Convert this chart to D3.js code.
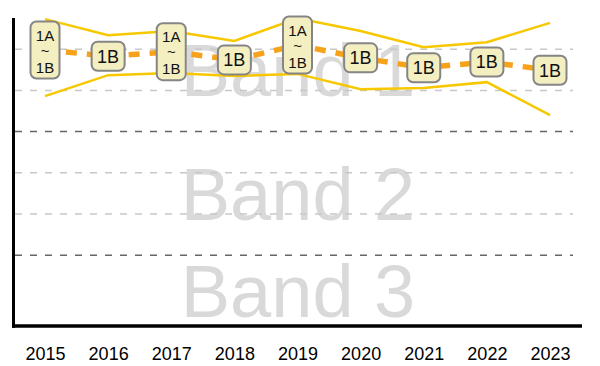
<!DOCTYPE html>
<html>
<head>
<meta charset="utf-8">
<script src="https://cdn.jsdelivr.net/npm/d3@7"></script>
<style>
  html, body { margin: 0; padding: 0; background: #fff; }
  svg { display: block; }
  text { font-family: "Liberation Sans", Arial, sans-serif; }
</style>
</head>
<body>
<svg id="chart" width="600" height="366"></svg>
<script>
// ---- data ----
const years = ["2015","2016","2017","2018","2019","2020","2021","2022","2023"];
// values in grid units (0 = top of Band 1, 3 = Band 1/2 border, 6 = Band 2/3 border)
const upper  = [0.27, 0.66, 0.56, 0.80, 0.25, 0.56, 0.95, 0.83, 0.36];
const median = [1.02, 1.17, 1.06, 1.26, 0.90, 1.21, 1.45, 1.31, 1.51];
const lower  = [2.14, 1.63, 1.58, 1.65, 1.60, 1.97, 1.94, 1.80, 2.60];
const labels = ["1A~1B","1B","1A~1B","1B","1A~1B","1B","1B","1B","1B"];
const bands = [
  {name: "Band 1", from: 0, to: 3},
  {name: "Band 2", from: 3, to: 6},
  {name: "Band 3", from: 6, to: 7.72}
];
const minorGrid = [1, 2, 4, 5];
const majorGrid = [3, 6];

// ---- layout ----
const svg = d3.select("#chart");
const plotLeft = 13.5, plotRight = 582, plotTop = 18, plotBottom = 326;
const x = d3.scalePoint().domain(years).range([45, 550]);
const y = d3.scaleLinear().domain([0, 7.72]).range([8, 326]);

// band labels
svg.append("g").selectAll("text").data(bands).join("text")
  .attr("x", 298)
  .attr("y", d => (y(d.from) + y(d.to)) / 2 + 26.5)
  .attr("text-anchor", "middle")
  .attr("font-size", 74)
  .attr("fill", "#d9d9d9")
  .text(d => d.name);

// gridlines
const grid = svg.append("g");
grid.selectAll("line.minor").data(minorGrid).join("line")
  .attr("class", "minor")
  .attr("x1", 15).attr("x2", 573)
  .attr("y1", d => y(d)).attr("y2", d => y(d))
  .attr("stroke", "#c8c8c8").attr("stroke-width", 1.5)
  .attr("stroke-dasharray", "7,8");
grid.selectAll("line.major").data(majorGrid).join("line")
  .attr("class", "major")
  .attr("x1", 15).attr("x2", 573)
  .attr("y1", d => y(d)).attr("y2", d => y(d))
  .attr("stroke", "#666").attr("stroke-width", 1.5)
  .attr("stroke-dasharray", "7,8");

// range lines
const line = d3.line().x((d, i) => x(years[i])).y(d => y(d));
[upper, lower].forEach(s => {
  svg.append("path").datum(s)
    .attr("d", line)
    .attr("fill", "none")
    .attr("stroke", "#f7c800")
    .attr("stroke-width", 2.5);
});
svg.append("path").datum(median)
  .attr("d", line)
  .attr("fill", "none")
  .attr("stroke", "#f7a21b")
  .attr("stroke-width", 5.5)
  .attr("stroke-dasharray", "11,10");

// label boxes
const boxes = svg.append("g").selectAll("g").data(years).join("g")
  .attr("transform", (d, i) => `translate(${x(d)},${y(median[i])})`);
boxes.each(function(d, i) {
  const g = d3.select(this);
  const lab = labels[i];
  if (lab.includes("~")) {
    const parts = lab.split("~");
    g.append("rect")
      .attr("x", -14.5).attr("y", -28.5).attr("width", 29).attr("height", 57)
      .attr("rx", 6).attr("ry", 6)
      .attr("fill", "#f3efc0").attr("stroke", "#858585").attr("stroke-width", 2);
    g.append("text").attr("text-anchor", "middle").attr("font-size", 15).attr("fill", "#111")
      .attr("y", -9.5).text(parts[0]);
    g.append("text").attr("text-anchor", "middle").attr("font-size", 15).attr("fill", "#111")
      .attr("y", 5.5).text("~");
    g.append("text").attr("text-anchor", "middle").attr("font-size", 15).attr("fill", "#111")
      .attr("y", 22.5).text(parts[1]);
  } else {
    g.append("rect")
      .attr("x", -16.5).attr("y", -14.5).attr("width", 33).attr("height", 29)
      .attr("rx", 6).attr("ry", 6)
      .attr("fill", "#f3efc0").attr("stroke", "#858585").attr("stroke-width", 2);
    g.append("text").attr("text-anchor", "middle").attr("font-size", 18).attr("fill", "#111")
      .attr("y", 6.5).text(lab);
  }
});

// axes
svg.append("line")
  .attr("x1", plotLeft).attr("x2", plotLeft)
  .attr("y1", plotTop).attr("y2", plotBottom + 1.7)
  .attr("stroke", "#000").attr("stroke-width", 3);
svg.append("line")
  .attr("x1", 12).attr("x2", plotRight)
  .attr("y1", plotBottom).attr("y2", plotBottom)
  .attr("stroke", "#000").attr("stroke-width", 3.5);

const xAxis = d3.axisBottom(x).tickSize(0).tickPadding(0);
const xg = svg.append("g").attr("transform", `translate(0,${plotBottom})`).call(xAxis);
xg.select(".domain").remove();
xg.selectAll("text")
  .attr("font-size", 18)
  .attr("font-family", "'Liberation Sans', Arial, sans-serif")
  .attr("fill", "#000")
  .attr("dy", 0)
  .attr("y", 34);
</script>
</body>
</html>
